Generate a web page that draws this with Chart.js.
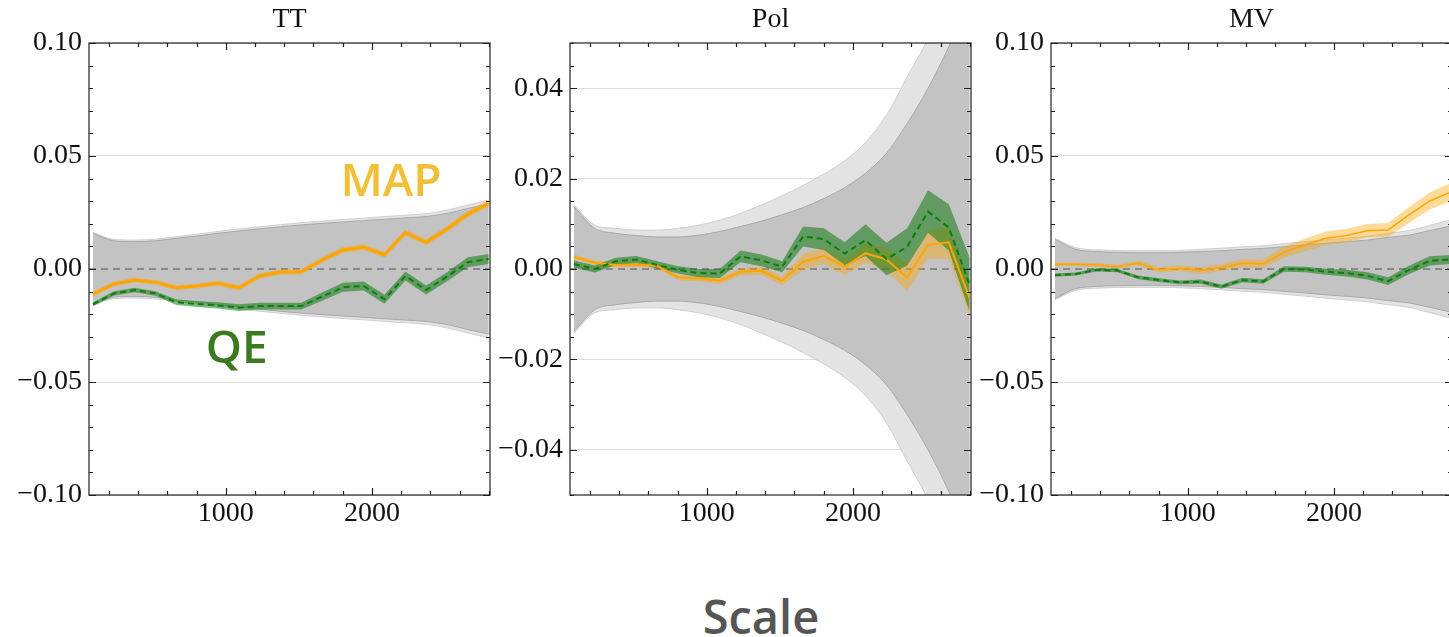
<!DOCTYPE html>
<html>
<head>
<meta charset="utf-8">
<script src="https://cdn.jsdelivr.net/npm/chart.js@4.4.1/dist/chart.umd.min.js"></script>
<style>
    body { margin: 0; background: #fff; overflow: hidden; }
    #wrap { position: relative; width: 1449px; height: 637px; overflow: hidden; }
    canvas { position: absolute; top: 0; }
    #xlabel {
        position: absolute; left: 561px; top: 588px; width: 400px; height: 56px;
        line-height: 56px; text-align: center; color: #555;
        font-family: "Open Sans", sans-serif; font-size: 47px; font-weight: 600;
    }
</style>
</head>
<body>
<div id="wrap">
    <canvas id="ttChart" width="492" height="540" style="left:0px"></canvas>
    <canvas id="polChart" width="493" height="540" style="left:480px"></canvas>
    <canvas id="mvChart" width="494" height="540" style="left:960px"></canvas>
    <div id="xlabel">Scale</div>
</div>
<script>
// multipole bins (x axis)
var X_VALUES = [91, 234, 376, 519, 661, 804, 946, 1089, 1231, 1374, 1516, 1659, 1801, 1944, 2086, 2229, 2371, 2514, 2656, 2799];
var X_MIN = 64;
var X_MAX = 2808;

// TT
var TT_MAP = [-0.0111, -0.0066, -0.0049, -0.0059, -0.0083, -0.0075, -0.0063, -0.0083, -0.0031, -0.0013, -0.0012, 0.0040, 0.0084, 0.0096, 0.0063, 0.0161, 0.0118, 0.0177, 0.0243, 0.0290];
var TT_MAP_ERR = [0.0010, 0.0010, 0.0010, 0.0010, 0.0011, 0.0011, 0.0011, 0.0012, 0.0012, 0.0012, 0.0012, 0.0013, 0.0013, 0.0013, 0.0013, 0.0014, 0.0014, 0.0014, 0.0015, 0.0015];
var TT_QE = [-0.0156, -0.0108, -0.0093, -0.0108, -0.0147, -0.0155, -0.0161, -0.0171, -0.0164, -0.0164, -0.0164, -0.0122, -0.0081, -0.0075, -0.0134, -0.0031, -0.0093, -0.0034, 0.0030, 0.0044];
var TT_QE_ERR = [0.0008, 0.0010, 0.0010, 0.0010, 0.0012, 0.0013, 0.0014, 0.0015, 0.0015, 0.0015, 0.0015, 0.0018, 0.0020, 0.0020, 0.0020, 0.0020, 0.0020, 0.0020, 0.0022, 0.0022];
var TT_SIGMA_IN = [0.0158, 0.0125, 0.0121, 0.0125, 0.0136, 0.0146, 0.0158, 0.0168, 0.0178, 0.0187, 0.0195, 0.0202, 0.0208, 0.0214, 0.0220, 0.0226, 0.0232, 0.0246, 0.0268, 0.0288];
var TT_SIGMA_OUT = [0.0162, 0.0131, 0.0128, 0.0132, 0.0143, 0.0154, 0.0166, 0.0177, 0.0187, 0.0196, 0.0205, 0.0212, 0.0219, 0.0225, 0.0232, 0.0238, 0.0245, 0.0260, 0.0283, 0.0305];

// Pol
var POL_MAP = [0.0027, 0.0014, 0.0009, 0.0010, 0.0007, -0.0019, -0.0021, -0.0026, -0.0006, -0.0004, -0.0026, 0.0016, 0.0029, 0.0005, 0.0035, 0.0021, -0.0019, 0.0054, 0.0059, -0.0065];
var POL_MAP_ERR = [0.0005, 0.0005, 0.0005, 0.0005, 0.0005, 0.0006, 0.0006, 0.0007, 0.0008, 0.0009, 0.0010, 0.0018, 0.0018, 0.0018, 0.0022, 0.0025, 0.0030, 0.0030, 0.0037, 0.0040];
var POL_QE = [0.0011, 0.0000, 0.0017, 0.0021, 0.0009, -0.0002, -0.0009, -0.0010, 0.0028, 0.0019, 0.0005, 0.0072, 0.0066, 0.0034, 0.0064, 0.0022, 0.0049, 0.0127, 0.0092, -0.0035];
var POL_QE_ERR = [0.0008, 0.0008, 0.0008, 0.0008, 0.0008, 0.0008, 0.0009, 0.0010, 0.0013, 0.0013, 0.0012, 0.0022, 0.0024, 0.0025, 0.0035, 0.0036, 0.0041, 0.0047, 0.0051, 0.0060];
var POL_SIGMA_IN = [0.0138, 0.0090, 0.0079, 0.0074, 0.0071, 0.0071, 0.0075, 0.0083, 0.0094, 0.0106, 0.0120, 0.0136, 0.0156, 0.0180, 0.0212, 0.0256, 0.0322, 0.0400, 0.0492, 0.0600];
var POL_SIGMA_OUT = [0.0142, 0.0097, 0.0090, 0.0086, 0.0086, 0.0090, 0.0097, 0.0108, 0.0123, 0.0142, 0.0162, 0.0185, 0.0210, 0.0240, 0.0280, 0.0340, 0.0425, 0.0510, 0.0620, 0.0750];

// MV
var MV_MAP = [0.0021, 0.0021, 0.0018, 0.0010, 0.0025, -0.0004, 0.0003, -0.0007, 0.0007, 0.0025, 0.0023, 0.0075, 0.0106, 0.0136, 0.0148, 0.0169, 0.0173, 0.0239, 0.0301, 0.0340];
var MV_MAP_ERR = [0.0008, 0.0008, 0.0008, 0.0008, 0.0010, 0.0012, 0.0012, 0.0015, 0.0015, 0.0018, 0.0020, 0.0025, 0.0028, 0.0030, 0.0030, 0.0030, 0.0030, 0.0035, 0.0038, 0.0040];
var MV_QE = [-0.0027, -0.0022, -0.0004, -0.0007, -0.0037, -0.0049, -0.0059, -0.0056, -0.0078, -0.0049, -0.0055, 0.0000, -0.0002, -0.0012, -0.0018, -0.0030, -0.0054, -0.0004, 0.0036, 0.0042];
var MV_QE_ERR = [0.0007, 0.0007, 0.0007, 0.0007, 0.0008, 0.0008, 0.0008, 0.0009, 0.0009, 0.0010, 0.0010, 0.0012, 0.0012, 0.0013, 0.0015, 0.0016, 0.0017, 0.0018, 0.0020, 0.0020];
var MV_SIGMA_IN = [0.0131, 0.0087, 0.0077, 0.0074, 0.0072, 0.0072, 0.0074, 0.0077, 0.0081, 0.0087, 0.0091, 0.0099, 0.0106, 0.0114, 0.0121, 0.0128, 0.0140, 0.0150, 0.0170, 0.0190];
var MV_SIGMA_OUT = [0.0136, 0.0094, 0.0085, 0.0082, 0.0081, 0.0081, 0.0083, 0.0087, 0.0092, 0.0098, 0.0103, 0.0112, 0.0120, 0.0129, 0.0137, 0.0145, 0.0158, 0.0170, 0.0193, 0.0217];

// text labels drawn inside the TT panel, in data coordinates
var TT_NOTES = [
    { text: "MAP", x: 2130, y: 0.038, color: "#f2c037" },
    { text: "QE", x: 1075, y: -0.0358, color: "#3b7a1e" }
];

var SERIF = "'Liberation Serif', 'DejaVu Serif', serif";

function isMultiple(v, step) {
    var r = v / step;
    return Math.abs(r - Math.round(r)) < 1e-6;
}

function points(center, offset, sign) {
    return X_VALUES.map(function (x, i) {
        var c = center ? center[i] : 0;
        return { x: x, y: c + sign * offset[i] };
    });
}

function lineSet(data, color, width, fillColor, fill, order, dash, smooth) {
    return {
        data: data,
        borderColor: color,
        borderWidth: width,
        borderDash: dash || [],
        backgroundColor: fillColor || "rgba(0,0,0,0)",
        fill: fill,
        order: order,
        pointRadius: 0,
        cubicInterpolationMode: smooth ? "monotone" : "default",
        tension: 0
    };
}

// panel title, inward ticks on all four sides and the box around the plot
var frameTicks = {
    id: "frameTicks",
    afterDraw: function (chart, args, opts) {
        var ctx = chart.ctx;
        var area = chart.chartArea;
        var xs = chart.scales.x;
        var ys = chart.scales.y;
        ctx.save();
        ctx.fillStyle = "#111";
        ctx.font = "28px " + SERIF;
        ctx.textAlign = "center";
        ctx.textBaseline = "middle";
        ctx.fillText(opts.title, (area.left + area.right) / 2, 20);

        ctx.strokeStyle = "#222";
        ctx.lineWidth = 1.2;
        ctx.beginPath();
        xs.ticks.forEach(function (t) {
            var px = Math.round(xs.getPixelForValue(t.value)) + 0.5;
            var len = isMultiple(t.value, 1000) ? 7 : 4;
            ctx.moveTo(px, area.bottom);
            ctx.lineTo(px, area.bottom - len);
            ctx.moveTo(px, area.top);
            ctx.lineTo(px, area.top + len);
        });
        ys.ticks.forEach(function (t) {
            var py = Math.round(ys.getPixelForValue(t.value)) + 0.5;
            var len = isMultiple(t.value, opts.yMajor) ? 7 : 4;
            ctx.moveTo(area.left, py);
            ctx.lineTo(area.left + len, py);
            ctx.moveTo(area.right, py);
            ctx.lineTo(area.right - len, py);
        });
        ctx.stroke();
        ctx.strokeRect(area.left, area.top, area.right - area.left, area.bottom - area.top);
        ctx.restore();
    }
};

var notes = {
    id: "notes",
    afterDatasetsDraw: function (chart, args, opts) {
        if (!opts.items) return;
        var ctx = chart.ctx;
        ctx.save();
        ctx.font = "600 46px 'Open Sans', sans-serif";
        ctx.textAlign = "center";
        ctx.textBaseline = "middle";
        opts.items.forEach(function (n) {
            ctx.fillStyle = n.color;
            ctx.fillText(n.text, chart.scales.x.getPixelForValue(n.x), chart.scales.y.getPixelForValue(n.y));
        });
        ctx.restore();
    }
};

function makeChart(id, p) {
    var datasets = [
        lineSet(points(null, p.sigmaOut, 1), "#cfcfcf", 1, "#e3e3e3", "+1", 20, null, true),
        lineSet(points(null, p.sigmaOut, -1), "#cfcfcf", 1, null, false, 19, null, true),
        lineSet(points(null, p.sigmaIn, 1), "#a9a9a9", 1, "#c3c3c3", "+1", 18, null, true),
        lineSet(points(null, p.sigmaIn, -1), "#a9a9a9", 1, null, false, 17, null, true),
        lineSet([{ x: X_MIN, y: 0 }, { x: X_MAX, y: 0 }], "#777", 1.6, null, false, 16, [7, 5]),
        lineSet(points(p.map, p.mapErr, 1), "rgba(0,0,0,0)", 0, "rgba(255,165,0,0.4)", "+1", 15),
        lineSet(points(p.map, p.mapErr, -1), "rgba(0,0,0,0)", 0, null, false, 14),
        lineSet(points(p.qe, p.qeErr, 1), "rgba(0,0,0,0)", 0, "rgba(0,115,0,0.5)", "+1", 13),
        lineSet(points(p.qe, p.qeErr, -1), "rgba(0,0,0,0)", 0, null, false, 12),
        lineSet(points(p.map, p.mapErr, 0), "#ffa500", p.mapWidth, null, false, 11),
        lineSet(points(p.qe, p.qeErr, 0), "#0a800a", 2, null, false, 10, [6, 4])
    ];

    return new Chart(document.getElementById(id), {
        type: "line",
        data: { datasets: datasets },
        plugins: [frameTicks, notes],
        options: {
            responsive: false,
            animation: false,
            devicePixelRatio: 1,
            layout: { padding: { left: 0, right: 2, top: 43, bottom: 0 } },
            plugins: {
                legend: { display: false },
                tooltip: { enabled: false },
                frameTicks: { yMajor: p.yMajor, title: p.title },
                notes: { items: p.notes }
            },
            scales: {
                x: {
                    type: "linear",
                    min: X_MIN,
                    max: X_MAX,
                    afterFit: function (scale) { scale.height = 45; },
                    grid: { display: false, drawTicks: false },
                    border: { display: false },
                    ticks: {
                        stepSize: 200,
                        maxTicksLimit: 20,
                        includeBounds: false,
                        autoSkip: false,
                        maxRotation: 0,
                        minRotation: 0,
                        padding: 2,
                        color: "#111",
                        font: { family: SERIF, size: 28 },
                        callback: function (v) { return isMultiple(v, 1000) ? String(Math.round(v)) : ""; }
                    }
                },
                y: {
                    min: p.yMin,
                    max: p.yMax,
                    afterFit: function (scale) { scale.width = p.yWidth; },
                    grid: {
                        drawTicks: false,
                        lineWidth: 1,
                        color: function (c) {
                            return c.tick && isMultiple(c.tick.value, p.yMajor) ? "#dddddd" : "rgba(0,0,0,0)";
                        }
                    },
                    border: { display: false },
                    ticks: {
                        stepSize: p.yMinor,
                        maxTicksLimit: 30,
                        autoSkip: false,
                        padding: 7,
                        color: "#111",
                        font: { family: SERIF, size: 28 },
                        callback: function (v) {
                            if (!isMultiple(v, p.yMajor)) return "";
                            var s = Math.abs(v).toFixed(2);
                            return v < -1e-9 ? "\u2212" + s : s;
                        }
                    }
                }
            }
        }
    });
}

makeChart("ttChart", {
    title: "TT", yMin: -0.1, yMax: 0.1, yMinor: 0.01, yMajor: 0.05, yWidth: 89,
    map: TT_MAP, mapErr: TT_MAP_ERR, qe: TT_QE, qeErr: TT_QE_ERR,
    sigmaIn: TT_SIGMA_IN, sigmaOut: TT_SIGMA_OUT, mapWidth: 3, notes: TT_NOTES
});

makeChart("polChart", {
    title: "Pol", yMin: -0.05, yMax: 0.05, yMinor: 0.005, yMajor: 0.02, yWidth: 90,
    map: POL_MAP, mapErr: POL_MAP_ERR, qe: POL_QE, qeErr: POL_QE_ERR,
    sigmaIn: POL_SIGMA_IN, sigmaOut: POL_SIGMA_OUT, mapWidth: 2, notes: null
});

makeChart("mvChart", {
    title: "MV", yMin: -0.1, yMax: 0.1, yMinor: 0.01, yMajor: 0.05, yWidth: 91,
    map: MV_MAP, mapErr: MV_MAP_ERR, qe: MV_QE, qeErr: MV_QE_ERR,
    sigmaIn: MV_SIGMA_IN, sigmaOut: MV_SIGMA_OUT, mapWidth: 1.5, notes: null
});
</script>
</body>
</html>
